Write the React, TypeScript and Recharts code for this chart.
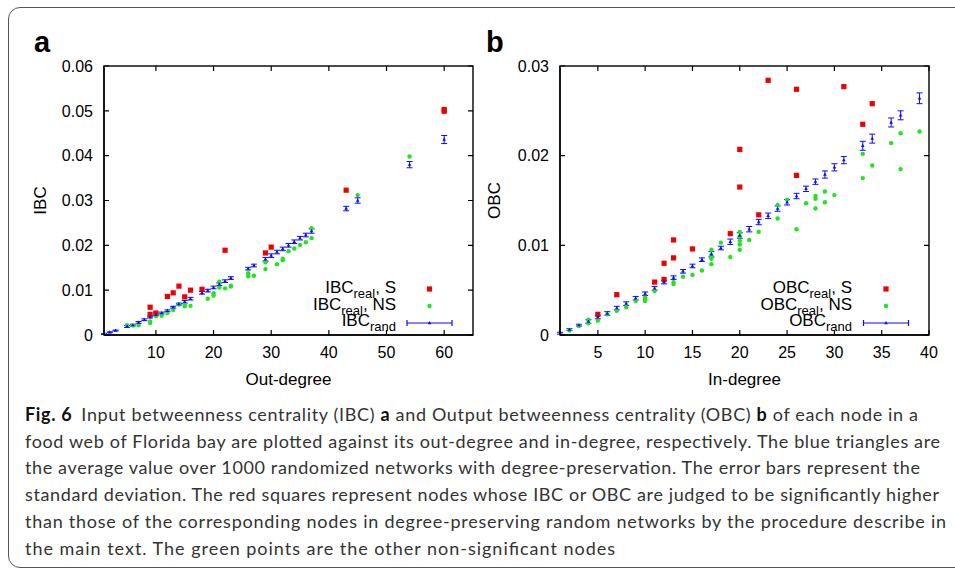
import React from 'react';
import { ScatterChart, Scatter, XAxis, YAxis, ErrorBar, Legend } from 'recharts';

// panel a: IBC against out-degree, [degree, value]
const ibcSig: [number, number][] = [
  [9, 0.0062], [9, 0.0046], [10, 0.0049], [12, 0.0086], [13, 0.0094], [14, 0.0109],
  [15, 0.0085], [16, 0.0100], [18, 0.0102], [22, 0.0189], [29, 0.0183], [30, 0.0196],
  [43, 0.0323], [60, 0.0503], [60, 0.0499],
];
const ibcNs: [number, number][] = [
  [1, 0.0002], [5, 0.0022], [6, 0.0021], [7, 0.0022], [9, 0.0030], [9, 0.0027],
  [10, 0.0042], [11, 0.0043], [12, 0.0049], [13, 0.0056], [14, 0.0068], [15, 0.0064],
  [15, 0.0068], [16, 0.0065], [19, 0.0081], [20, 0.0088], [20, 0.0093], [21, 0.0119],
  [21, 0.0106], [22, 0.0104], [23, 0.0108], [23, 0.0110], [26, 0.0138], [26, 0.0131],
  [27, 0.0132], [29, 0.0147], [29, 0.0162], [31, 0.0158], [32, 0.0170], [32, 0.0167],
  [33, 0.0187], [34, 0.0193], [35, 0.0201], [36, 0.0207], [37, 0.0216], [37, 0.0238],
  [45, 0.0312], [54, 0.0398],
];
// [degree, mean, std]
const ibcRand: [number, number, number][] = [
  [1, 0.0002, 0.0001], [2, 0.0006, 0.0001], [3, 0.0010, 0.0001], [5, 0.0019, 0.0002],
  [6, 0.0022, 0.0002], [7, 0.0028, 0.0002], [8, 0.0034, 0.0002], [9, 0.0040, 0.0002],
  [10, 0.0045, 0.0002], [11, 0.0049, 0.0002], [12, 0.0054, 0.0002], [13, 0.0062, 0.0002],
  [14, 0.0069, 0.0002], [15, 0.0074, 0.0003], [16, 0.0081, 0.0003], [18, 0.0094, 0.0003],
  [19, 0.0099, 0.0003], [20, 0.0106, 0.0003], [21, 0.0113, 0.0003], [22, 0.0120, 0.0003],
  [23, 0.0127, 0.0003], [26, 0.0148, 0.0003], [27, 0.0155, 0.0003], [29, 0.0169, 0.0004],
  [30, 0.0177, 0.0004], [31, 0.0185, 0.0004], [32, 0.0192, 0.0004], [33, 0.0200, 0.0004],
  [34, 0.0208, 0.0004], [35, 0.0216, 0.0004], [36, 0.0223, 0.0004], [37, 0.0232, 0.0005],
  [43, 0.0282, 0.0005], [45, 0.0300, 0.0006], [54, 0.0380, 0.0007], [60, 0.0436, 0.0009],
];

// panel b: OBC against in-degree
const obcSig: [number, number][] = [
  [5, 0.0023], [7, 0.0045], [11, 0.0059], [12, 0.0080], [12, 0.0062], [13, 0.0106],
  [13, 0.0086], [15, 0.0096], [19, 0.0113], [20, 0.0207], [20, 0.0165], [22, 0.0134],
  [23, 0.0284], [26, 0.0274], [26, 0.0178], [31, 0.0277], [33, 0.0235], [34, 0.0258],
];
const obcNs: [number, number][] = [
  [2, 0.0005], [3, 0.0010], [4, 0.0017], [4, 0.0013], [5, 0.0016], [6, 0.0023],
  [7, 0.0027], [8, 0.0031], [9, 0.0038], [10, 0.0038], [10, 0.0042], [10, 0.0040],
  [11, 0.0049], [13, 0.0057], [13, 0.0059], [14, 0.0065], [15, 0.0067], [16, 0.0072],
  [17, 0.0095], [17, 0.0089], [17, 0.0085], [17, 0.0079], [18, 0.0103], [19, 0.0087],
  [20, 0.0115], [20, 0.0110], [20, 0.0105], [20, 0.0101], [20, 0.0095], [21, 0.0106],
  [22, 0.0115], [24, 0.0145], [24, 0.0130], [25, 0.0151], [26, 0.0118], [27, 0.0147],
  [28, 0.0155], [28, 0.0152], [28, 0.0141], [29, 0.0160], [29, 0.0148], [30, 0.0156],
  [33, 0.0202], [33, 0.0175], [34, 0.0189], [36, 0.0214], [37, 0.0225], [37, 0.0185],
  [39, 0.0227],
];
const obcRand: [number, number, number][] = [
  [1, 0.0002, 0.0001], [2, 0.0006, 0.0001], [3, 0.0011, 0.0001], [4, 0.0015, 0.0002],
  [5, 0.0020, 0.0002], [6, 0.0024, 0.0002], [7, 0.0030, 0.0002], [8, 0.0035, 0.0002],
  [9, 0.0041, 0.0002], [10, 0.0046, 0.0002], [11, 0.0052, 0.0002], [12, 0.0059, 0.0002],
  [13, 0.0064, 0.0002], [14, 0.0071, 0.0002], [15, 0.0077, 0.0002], [16, 0.0084, 0.0002],
  [17, 0.0090, 0.0003], [18, 0.0097, 0.0002], [19, 0.0104, 0.0003], [20, 0.0111, 0.0003],
  [21, 0.0118, 0.0003], [22, 0.0126, 0.0003], [23, 0.0133, 0.0003], [24, 0.0141, 0.0003],
  [25, 0.0148, 0.0003], [26, 0.0155, 0.0003], [27, 0.0163, 0.0003], [28, 0.0171, 0.0003],
  [29, 0.0179, 0.0004], [30, 0.0187, 0.0004], [31, 0.0195, 0.0004], [33, 0.0211, 0.0005],
  [34, 0.0219, 0.0005], [36, 0.0237, 0.0005], [37, 0.0245, 0.0005], [39, 0.0264, 0.0006],
];

const outDegTicks = [10, 20, 30, 40, 50, 60];
const inDegTicks = [5, 10, 15, 20, 25, 30, 35, 40];
const ibcTicks = [0, 0.01, 0.02, 0.03, 0.04, 0.05, 0.06];
const obcTicks = [0, 0.01, 0.02, 0.03];

const RED = '#f00000';
const GREEN = '#1ee61e';
const BLUE = '#0a0aff';
const SANS = '"Liberation Sans", Arial, sans-serif';
const TICK_LEN = 5;
const PLOT_TOP = 66;
const PLOT_BOTTOM = 335;
const CHART_H = 400;
const X_AXIS_H = 50;

const toPts = (arr: [number, number][]) => arr.map(([x, y]) => ({ x, y }));
const toRand = (arr: [number, number, number][]) => arr.map(([x, y, err]) => ({ x, y, err }));

const Square = (p: any) => <rect x={p.cx - 2.6} y={p.cy - 2.6} width={5.2} height={5.2} fill={RED} />;
const Dot = (p: any) => <circle cx={p.cx} cy={p.cy} r={2.2} fill={GREEN} />;
const Tri = (p: any) => (
  <path d={`M${p.cx},${p.cy - 2} L${p.cx + 1.8},${p.cy + 1.2} L${p.cx - 1.8},${p.cy + 1.2} Z`} fill={BLUE} />
);

const fmtY = (v: number) => (v === 0 ? '0' : v.toFixed(2));

const BOTTOM_GAP = 12;
const LEFT_GAP = 11;
const BottomTick = (p: any) => (
  <text x={p.x} y={p.y} dy="0.71em" textAnchor="middle" fontSize={16} fontFamily={SANS} fill="#000">
    {p.payload.value}
  </text>
);
const LeftTick = (p: any) => (
  <text x={p.x} y={p.y} dy="0.355em" textAnchor="end" fontSize={16} fontFamily={SANS} fill="#000">
    {fmtY(p.payload.value)}
  </text>
);

const KeyBox = ({ name, end, mx }: { name: string; end: number; mx: number }) => {
  const rows = [
    { sub: 'real', tail: ', S' },
    { sub: 'real', tail: ', NS' },
    { sub: 'rand', tail: '' },
  ];
  return (
    <svg width={190} height={60} style={{ display: 'block', overflow: 'visible' }}>
      {rows.map((r, i) => (
        <text key={i} x={end} y={18 + i * 16.5} textAnchor="end" fontSize={17} fontFamily={SANS} fill="#000">
          {name}
          <tspan fontSize={13} dy={5}>{r.sub}</tspan>
          {r.tail && <tspan dy={-5}>{r.tail}</tspan>}
        </text>
      ))}
      <rect x={mx - 2.6} y={11.4} width={5.2} height={5.2} fill={RED} />
      <circle cx={mx} cy={31} r={2.2} fill={GREEN} />
      <g stroke={BLUE} strokeWidth={1.2}>
        <line x1={mx - 22.5} y1={48} x2={mx + 22.5} y2={48} />
        <line x1={mx - 22.5} y1={45} x2={mx - 22.5} y2={51} />
        <line x1={mx + 22.5} y1={45} x2={mx + 22.5} y2={51} />
      </g>
      <path d={`M${mx},${46} L${mx + 1.8},${49.2} L${mx - 1.8},${49.2} Z`} fill={BLUE} />
    </svg>
  );
};

// gnuplot-style box: border plus inward ticks on all four sides, laid over the plot area
const PlotBox = ({ left, right, xDomain, xTicks, yMax, yTicks }: {
  left: number; right: number; xDomain: [number, number]; xTicks: number[]; yMax: number; yTicks: number[];
}) => {
  const sx = (v: number) => left + ((v - xDomain[0]) / (xDomain[1] - xDomain[0])) * (right - left);
  const sy = (v: number) => PLOT_BOTTOM - (v / yMax) * (PLOT_BOTTOM - PLOT_TOP);
  let d = '';
  xTicks.forEach((t) => {
    const x = sx(t);
    d += `M${x},${PLOT_BOTTOM}V${PLOT_BOTTOM - TICK_LEN}M${x},${PLOT_TOP}V${PLOT_TOP + TICK_LEN}`;
  });
  yTicks.forEach((t) => {
    const y = sy(t);
    d += `M${left},${y}H${left + TICK_LEN}M${right},${y}H${right - TICK_LEN}`;
  });
  return (
    <g stroke="#000" fill="none" strokeWidth={1.2}>
      <path d={d} />
      <rect x={left} y={PLOT_TOP} width={right - left} height={PLOT_BOTTOM - PLOT_TOP} strokeWidth={1.4} />
    </g>
  );
};

type PanelProps = {
  width: number;
  yWidth: number;
  right: number;
  xDomain: [number, number];
  xTicks: number[];
  yMax: number;
  yTicks: number[];
  xTitle: string;
  yTitle: string;
  yTitleOffset: number;
  sig: [number, number][];
  ns: [number, number][];
  rand: [number, number, number][];
  keyName: string;
  keyLeft: number;
  keyEnd: number;
  keyMarker: number;
};

const Panel = (p: PanelProps) => (
  <ScatterChart
    width={p.width}
    height={CHART_H}
    margin={{ top: PLOT_TOP, right: p.right, bottom: CHART_H - PLOT_BOTTOM - X_AXIS_H, left: 0 }}
  >
    <XAxis
      type="number"
      dataKey="x"
      domain={p.xDomain}
      ticks={p.xTicks}
      interval={0}
      allowDataOverflow
      height={X_AXIS_H}
      tickSize={0}
      tickMargin={BOTTOM_GAP}
      axisLine={{ stroke: '#000', strokeWidth: 1.4 }}
      tickLine={false}
      tick={BottomTick}
      label={{ value: p.xTitle, position: 'insideBottom', offset: 0, style: { fontSize: 17, fontFamily: SANS, fill: '#000' } }}
    />
    <YAxis
      type="number"
      dataKey="y"
      domain={[0, p.yMax]}
      ticks={p.yTicks}
      interval={0}
      allowDataOverflow
      width={p.yWidth}
      tickSize={0}
      tickMargin={LEFT_GAP}
      axisLine={{ stroke: '#000', strokeWidth: 1.4 }}
      tickLine={false}
      tick={LeftTick}
      label={{
        value: p.yTitle,
        angle: -90,
        position: 'insideLeft',
        offset: p.yTitleOffset,
        style: { fontSize: 17, fontFamily: SANS, fill: '#000', textAnchor: 'middle' },
      }}
    />
    <Scatter data={toPts(p.sig)} shape={Square} isAnimationActive={false} />
    <Scatter data={toPts(p.ns)} shape={Dot} isAnimationActive={false} />
    <Scatter data={toRand(p.rand)} shape={Tri} isAnimationActive={false}>
      <ErrorBar dataKey="err" direction="y" width={3} stroke={BLUE} strokeWidth={1} />
    </Scatter>
    <Legend
      layout="vertical"
      align="center"
      verticalAlign="middle"
      wrapperStyle={{ left: p.keyLeft, top: 275, width: 190, height: 60 }}
      content={() => <KeyBox name={p.keyName} end={p.keyEnd} mx={p.keyMarker} />}
    />
  </ScatterChart>
);

const captionLines: { parts: { t: string; b?: boolean; dx?: number }[]; w: number }[] = [
  {
    parts: [
      { t: 'Fig. 6', b: true },
      { t: 'Input betweenness centrality (IBC) ', dx: 9 },
      { t: 'a', b: true },
      { t: ' and Output betweenness centrality (OBC) ' },
      { t: 'b', b: true },
      { t: ' of each node in a' },
    ],
    w: 893,
  },
  { parts: [{ t: 'food web of Florida bay are plotted against its out-degree and in-degree, respectively. The blue triangles are' }], w: 915 },
  { parts: [{ t: 'the average value over 1000 randomized networks with degree-preservation. The error bars represent the' }], w: 895 },
  { parts: [{ t: 'standard deviation. The red squares represent nodes whose IBC or OBC are judged to be significantly higher' }], w: 914 },
  { parts: [{ t: 'than those of the corresponding nodes in degree-preserving random networks by the procedure describe in' }], w: 921 },
  { parts: [{ t: 'the main text. The green points are the other non-significant nodes' }], w: 590 },
];

export default function App() {
  return (
    <div style={{ position: 'absolute', left: 0, top: 0, width: 955, height: 572, overflow: 'hidden', background: '#fff' }}>
      <div
        style={{
          position: 'absolute',
          left: 8,
          top: 7,
          width: 980,
          height: 561,
          border: '1.5px solid #555',
          borderRadius: 12,
          boxSizing: 'border-box',
        }}
      />
      <div style={{ position: 'absolute', left: 0, top: 0 }}>
        <Panel
          width={480}
          yWidth={104}
          right={7}
          xDomain={[1, 65]}
          xTicks={outDegTicks}
          yMax={0.06}
          yTicks={ibcTicks}
          xTitle="Out-degree"
          yTitle="IBC"
          yTitleOffset={40}
          sig={ibcSig}
          ns={ibcNs}
          rand={ibcRand}
          keyName="IBC"
          keyLeft={300}
          keyEnd={96}
          keyMarker={129.5}
        />
      </div>
      <div style={{ position: 'absolute', left: 480, top: 0 }}>
        <Panel
          width={475}
          yWidth={80}
          right={26}
          xDomain={[1, 40]}
          xTicks={inDegTicks}
          yMax={0.03}
          yTicks={obcTicks}
          xTitle="In-degree"
          yTitle="OBC"
          yTitleOffset={14}
          sig={obcSig}
          ns={obcNs}
          rand={obcRand}
          keyName="OBC"
          keyLeft={250}
          keyEnd={122}
          keyMarker={156}
        />
      </div>
      <svg width={955} height={572} style={{ position: 'absolute', left: 0, top: 0, pointerEvents: 'none' }}>
        <PlotBox left={104} right={473} xDomain={[1, 65]} xTicks={outDegTicks} yMax={0.06} yTicks={ibcTicks} />
        <PlotBox left={560} right={929} xDomain={[1, 40]} xTicks={inDegTicks} yMax={0.03} yTicks={obcTicks} />
        <text x={34} y={52} fontSize={29} fontWeight="bold" fontFamily={SANS} fill="#000">a</text>
        <text x={486} y={52} fontSize={29} fontWeight="bold" fontFamily={SANS} fill="#000">b</text>
        {captionLines.map((line, i) => (
          <text
            key={i}
            x={25}
            y={421 + i * 26.7}
            fontSize={18}
            fontFamily="Lato, 'Noto Sans', sans-serif"
            fill="#333"
            textLength={line.w}
            lengthAdjust="spacing"
            xmlSpace="preserve"
          >
            {line.parts.map((s, j) => (
              <tspan key={j} fontWeight={s.b ? 'bold' : 'normal'} fill={s.b ? '#111' : '#333'} dx={s.dx}>
                {s.t}
              </tspan>
            ))}
          </text>
        ))}
      </svg>
    </div>
  );
}
